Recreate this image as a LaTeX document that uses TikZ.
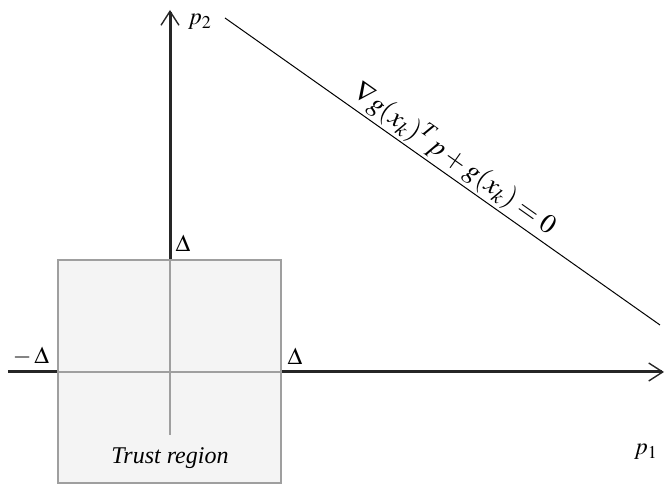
\documentclass[tikz,border=0pt]{standalone}
\usepackage{mathptmx}
\usepackage{fontspec}
\setmainfont{Liberation Serif}
\usetikzlibrary{arrows.meta}
\def\xO{170}
\def\yO{372}
\def\xL{58}
\def\xR{281}
\def\yT{260}
\def\yB{483}
\tikzset{
  axis/.style={line width=1.5pt, black!85, -{Straight Barb[length=7pt, width=9pt, line width=0.7pt]}},
  trbox/.style={fill=gray!9, draw=gray!75, line width=1pt},
  inaxis/.style={line width=1.4pt, gray!75},
  cons/.style={line width=0.5pt},
  lbl/.style={font=\large, inner sep=1pt},
}
\begin{document}
\begin{tikzpicture}[x=0.5pt, y=-0.5pt]
  \useasboundingbox (0,0) rectangle (666,485);
  \coordinate (o) at (\xO,\yO);
  \coordinate (xs) at (8,\yO);
  \coordinate (xe) at (664,\yO);
  \coordinate (ye) at (\xO,10);
  \coordinate (ys) at (\xO,435);

  \draw[axis] (xs) -- (xe);
  \draw[axis] (o) -- (ye);

  \draw[trbox] (\xL,\yT) rectangle (\xR,\yB);
  \draw[inaxis] (\xL,\yO) -- (\xR,\yO);
  \draw[inaxis] (\xO,\yT) -- (ys);

  \node[lbl] (p1) at (646,452) {$p_1$};
  \node[lbl] (p2) at (200,22) {$p_2$};
  \node[lbl] (dtop) at (183,243) {$\Delta$};
  \node[lbl] (dright) at (295,356) {$\Delta$};
  \node[lbl] (dleft) at (31,356) {$-\,\Delta$};
  \node[lbl, font=\large\itshape] (trust) at (\xO,458) {Trust region};

  \coordinate (ca) at (225,18);
  \coordinate (cb) at (660,325);
  \draw[cons] (ca) -- (cb) node[lbl, font=\Large, pos=0.505, sloped, above=0pt, scale=0.95] (eq)
    {$\nabla g(x_k)^T p + g(x_k) = 0$};
\end{tikzpicture}
\end{document}
